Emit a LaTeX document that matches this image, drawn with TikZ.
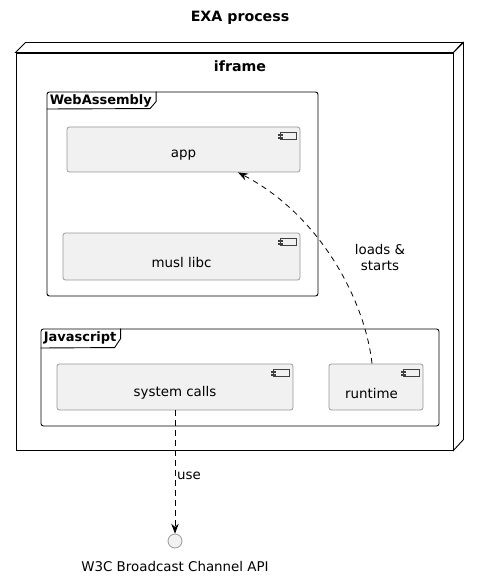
\documentclass[tikz,border=0pt]{standalone}
\usepackage{fontspec}
\setmainfont{DejaVu Sans}
\usetikzlibrary{arrows.meta}
\definecolor{compfill}{HTML}{F1F1F1}
\definecolor{compline}{HTML}{999999}
\newcommand\lowered[1]{\raisebox{-6pt}[\height][\depth]{#1}}
\newcommand\compicon[1]{%
  \draw[iconline] ([shift={(-20,6)}]#1.north east) rectangle ++(16,7);
  \draw[iconline,fill=compfill] ([shift={(-22,7.5)}]#1.north east) rectangle ++(4,1.6);
  \draw[iconline,fill=compfill] ([shift={(-22,10.2)}]#1.north east) rectangle ++(4,1.6);
}
\tikzset{
  x=1pt, y=-1pt,
  comp/.style={draw=compline, fill=compfill, rounded corners=2.5pt, line width=0.8pt,
    inner sep=0pt, font=\fontsize{13.4}{15}\selectfont},
  iconline/.style={draw=black!75, line width=0.5pt},
  frm/.style={draw=black, line width=0.9pt, rounded corners=2.5pt, inner sep=0pt},
  tablbl/.style={font=\fontsize{13}{15}\selectfont\bfseries, anchor=north west, inner sep=0pt},
  lbl/.style={font=\fontsize{13.4}{16}\selectfont, inner sep=0pt},
  ttl/.style={font=\fontsize{14.2}{16}\selectfont\bfseries, inner sep=0pt},
  dep/.style={draw=black, line width=0.8pt, dash pattern=on 5.5pt off 4.5pt,
    -{Stealth[length=10pt,width=7.5pt,inset=3.5pt]}},
}
\begin{document}
\begin{tikzpicture}
\useasboundingbox (0,0) rectangle (479,580);
% title
\node[ttl] (title) at (240,18) {EXA process};
% 3D node iframe
\node[draw=black, line width=0.9pt, fill=white, minimum width=437, minimum height=397, inner sep=0pt] (iframe) at (234.5,251.5) {};
\draw[line width=0.9pt, fill=white] (iframe.north west) -- ++(10,-10) -- ++(437,0) -- (iframe.north east) -- cycle;
\draw[line width=0.9pt, fill=white] (iframe.north east) -- ++(10,-10) -- ++(0,397) -- (iframe.south east) -- cycle;
\node[ttl] (iframelbl) at (240,66) {iframe};
% WebAssembly frame
\node[frm, minimum width=271, minimum height=204] (wasm) at (182.5,194) {};
\node[tablbl] (wasmlbl) at ([shift={(3,3)}]wasm.north west) {WebAssembly};
\draw[line width=0.9pt] ([xshift=4]wasmlbl.east |- wasm.north) -- ++(0,10) -- ++(-6,7) -- (wasm.west |- 0,109);
% components
\node[comp, minimum width=233, minimum height=45] (app) at (183.5,149.5) {\lowered{app}};
\compicon{app}
\node[comp, minimum width=237, minimum height=47] (musl) at (181.5,256.5) {\lowered{musl libc}};
\compicon{musl}
% Javascript frame
\node[frm, minimum width=398, minimum height=97] (js) at (240,377.5) {};
\node[tablbl] (jslbl) at ([shift={(3,3)}]js.north west) {Javascript};
\draw[line width=0.9pt] ([xshift=4]jslbl.east |- js.north) -- ++(0,10) -- ++(-6,9) -- (js.west |- 0,348);
\node[comp, minimum width=236, minimum height=46] (sys) at (175,387) {\lowered{system calls}};
\compicon{sys}
\node[comp, minimum width=94, minimum height=46] (runtime) at (376,387) {\lowered{\hspace*{-9pt}runtime}};
\compicon{runtime}
% interface
\node[circle, draw=compline, fill=compfill, line width=0.8pt, minimum size=14, inner sep=0pt] (api) at (175,541) {};
\node[lbl] (apilbl) at (175,566) {W3C Broadcast Channel API};
% connectors
\draw[dep] ([xshift=-4]runtime.north) .. controls (365,300) and (320,215) .. ([xshift=54.5]app.south);
\node[lbl, align=center] (loadslbl) at (380,258) {loads \&\\starts};
\draw[dep] (sys.south) -- (api.north);
\node[lbl, anchor=west] (uselbl) at (177,476) {use};
\end{tikzpicture}
\end{document}
